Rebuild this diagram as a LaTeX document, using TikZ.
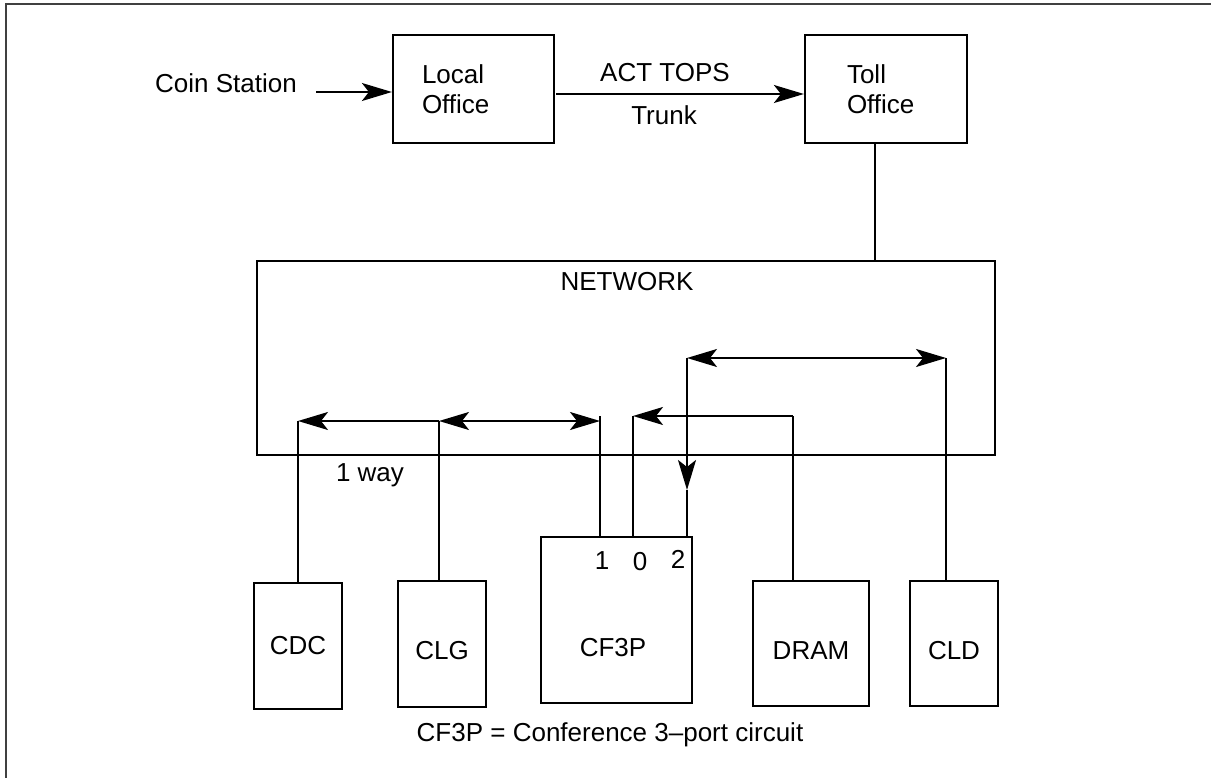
\documentclass[tikz,border=0pt]{standalone}
\usepackage{fontspec}
\setmainfont{Liberation Sans}
\usetikzlibrary{arrows.meta}
\tikzset{
  box/.style={draw, line width=2.2pt, rectangle, inner sep=0pt, font=\fontsize{26}{30}\selectfont},
  lowtext/.style={text height=31pt, text depth=0pt},
  lbl/.style={inner sep=0pt, font=\fontsize{26}{30}\selectfont},
  wire/.style={line width=2pt},
  tip/.style={-{Stealth[length=30pt,width=18pt,inset=7pt]}},
  tips/.style={{Stealth[length=30pt,width=18pt,inset=7pt]}-{Stealth[length=30pt,width=18pt,inset=7pt]}},
}
\begin{document}
\begin{tikzpicture}[x=1pt,y=-1pt]
\useasboundingbox (0,0) rectangle (1211,778);
\fill[white] (0,0) rectangle (1211,778);
% frame
\draw[black!75, line width=2.2pt] (6,778) -- (6,4) -- (1211,4);

% top row
\node[lbl] (coin) at (226,83) {Coin Station};
\node[box, minimum width=161pt, minimum height=108pt, text width=103pt, align=left, inner xsep=29pt] (local) at (473.5,89) {Local\\Office};
\node[box, minimum width=162pt, minimum height=108pt, text width=78pt, align=left, inner xsep=42pt] (toll) at (886,89) {Toll\\Office};
\coordinate (coinend) at (316,92);
\draw[wire, tip] (coinend) -- (local.west |- coinend);
\coordinate (trunkstart) at (556,94);
\draw[wire, tip] (trunkstart) -- (toll.west |- trunkstart);
\node[lbl] (act) at (665,73) {ACT TOPS};
\node[lbl] (trunk) at (664,115) {Trunk};

% network
\node[box, minimum width=738pt, minimum height=194pt] (net) at (626,358) {};
\node[lbl] (netlbl) at (627,282) {NETWORK};
\coordinate (tolldown) at (875,143);
\draw[wire] (tolldown) -- (tolldown |- net.north);

% bottom boxes
\node[box, minimum width=88pt, minimum height=126pt] (cdc) at (298,646) {CDC};
\node[box, lowtext, minimum width=88pt, minimum height=126pt] (clg) at (442,644) {CLG};
\node[box, minimum width=151pt, minimum height=166pt] (cf3p) at (616.5,620) {};
\node[lbl] (cf3plbl) at (613,648) {CF3P};
\node[lbl] (p1) at (602,561) {1};
\node[lbl] (p0) at (640,562) {0};
\node[lbl] (p2) at (678,559) {2};
\node[box, lowtext, minimum width=116pt, minimum height=125pt] (dram) at (811,643.5) {DRAM};
\node[box, lowtext, minimum width=88pt, minimum height=125pt] (cld) at (954,643.5) {CLD};

% connectors left group
\coordinate (jA) at (298,421);
\coordinate (jB) at (439,421);
\coordinate (jC) at (600,421);
\coordinate (p1top) at (600,416);
\draw[wire] (cdc.north) -- (jA);
\draw[wire] (clg.north -| jB) -- (jB);
\draw[wire, tip] (jB) -- (jA);
\draw[wire, tips] (jB) -- (jC);
\draw[wire] (cf3p.north -| p1top) -- (p1top);

% port 0 / DRAM
\coordinate (p0top) at (633,416);
\coordinate (dtop) at (793,416);
\draw[wire] (cf3p.north -| p0top) -- (p0top);
\draw[wire] (dram.north -| dtop) -- (dtop);
\draw[wire, tip] (dtop) -- (p0top);

% port 2 / CLD
\coordinate (p2top) at (687,358);
\coordinate (p2arr) at (687,490);
\coordinate (ctop) at (946,358);
\draw[wire, tip] (p2top) -- (p2arr);
\draw[wire] (p2arr) -- (cf3p.north -| p2arr);
\draw[wire] (cld.north -| ctop) -- (ctop);
\draw[wire, tips] (p2top) -- (ctop);

\node[lbl] (oneway) at (370,475) {1 way};
\node[lbl] (caption) at (610,735) {CF3P = Conference 3–port circuit};
\end{tikzpicture}
\end{document}
